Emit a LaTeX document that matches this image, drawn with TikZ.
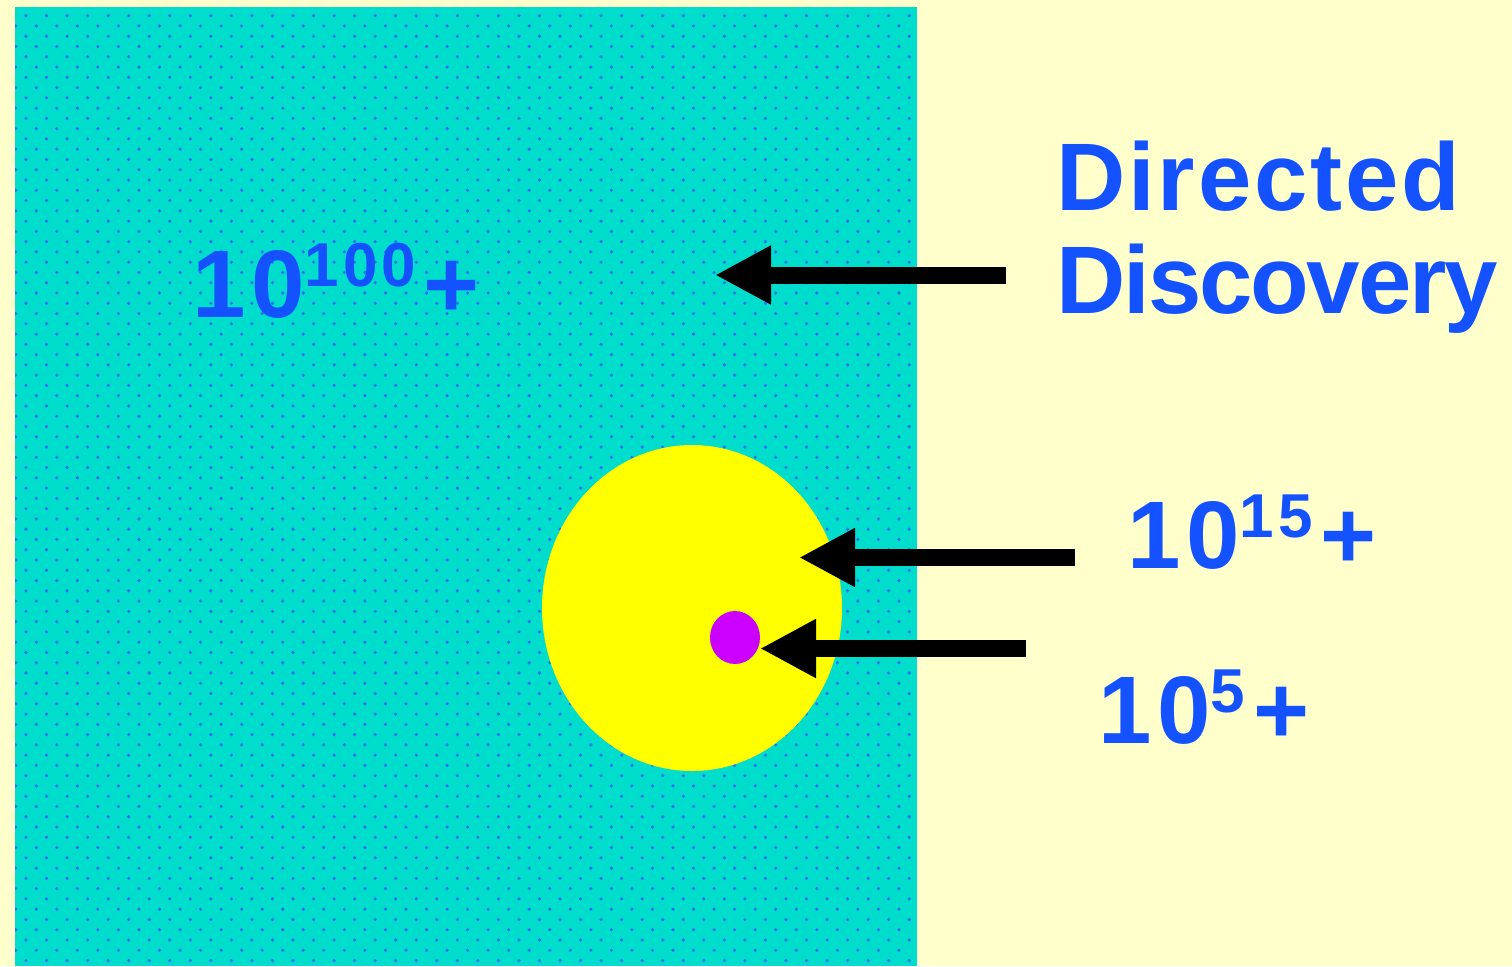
\documentclass[tikz,border=0pt]{standalone}
\usepackage{fontspec}
\setmainfont{Liberation Sans}
\usetikzlibrary{arrows.meta}
\definecolor{cream}{RGB}{255,255,204}
\definecolor{teal}{RGB}{0,221,204}
\definecolor{dotc}{RGB}{45,115,240}
\definecolor{txtblue}{RGB}{20,82,255}
\definecolor{yel}{RGB}{255,255,0}
\definecolor{mag}{RGB}{204,0,255}
\newcommand\supx[1]{\raisebox{15.5pt}{\fontsize{31}{31}\selectfont #1}\hspace{4pt}}
\tikzset{
  lbl/.style={inner sep=0pt, anchor=base west, text=txtblue, font=\fontsize{48}{52}\selectfont\bfseries},
  numlbl/.style={lbl, font=\fontsize{48}{52}\selectfont\bfseries\addfontfeature{LetterSpace=6}},
  bigarrow/.style={line width=8.5pt, black, -{Triangle[length=28pt,width=27.5pt]}}
}
\begin{document}
\begin{tikzpicture}[x=0.5pt,y=-0.5pt]
\useasboundingbox (0,0) rectangle (1512,966);
\fill[cream] (0,0) rectangle (1512,966);
\fill[teal] (15,7) rectangle (917,966);
\begin{scope}
\clip (15,7) rectangle (917,966);
\foreach \m in {0,...,46} {
  \fill[dotc] \foreach \i in {0,...,44} { ({26+20.54*\i},{15.7+20.54*\m}) circle (0.9pt) };
  \fill[dotc] \foreach \i in {0,...,44} { ({15.73+20.54*\i},{25.97+20.54*\m}) circle (0.9pt) };
}
\end{scope}
\fill[yel] (692,608) ellipse [x radius=150, y radius=163];
\fill[mag] (735,637.5) ellipse [x radius=25, y radius=26.5];

\coordinate (t1) at (1006,275); \coordinate (h1) at (715,275);
\coordinate (t2) at (1075,557.5); \coordinate (h2) at (799,557.5);
\coordinate (t3) at (1026,648.5); \coordinate (h3) at (760,648.5);
\draw[bigarrow] (t1) -- (h1);
\draw[bigarrow] (t2) -- (h2);
\draw[bigarrow] (t3) -- (h3);

\node[lbl] (dir) at (1056,210) {\addfontfeature{LetterSpace=2.9}Directed};
\node[lbl] (dis) at (1056,313) {\addfontfeature{LetterSpace=-2.3}Discovery};
\node[numlbl] (n100) at (192,317) {10\supx{100}+};
\node[numlbl] (n15) at (1127,568) {10\supx{15}+};
\node[numlbl] (n5) at (1098,743) {10\supx{5}+};
\end{tikzpicture}
\end{document}
